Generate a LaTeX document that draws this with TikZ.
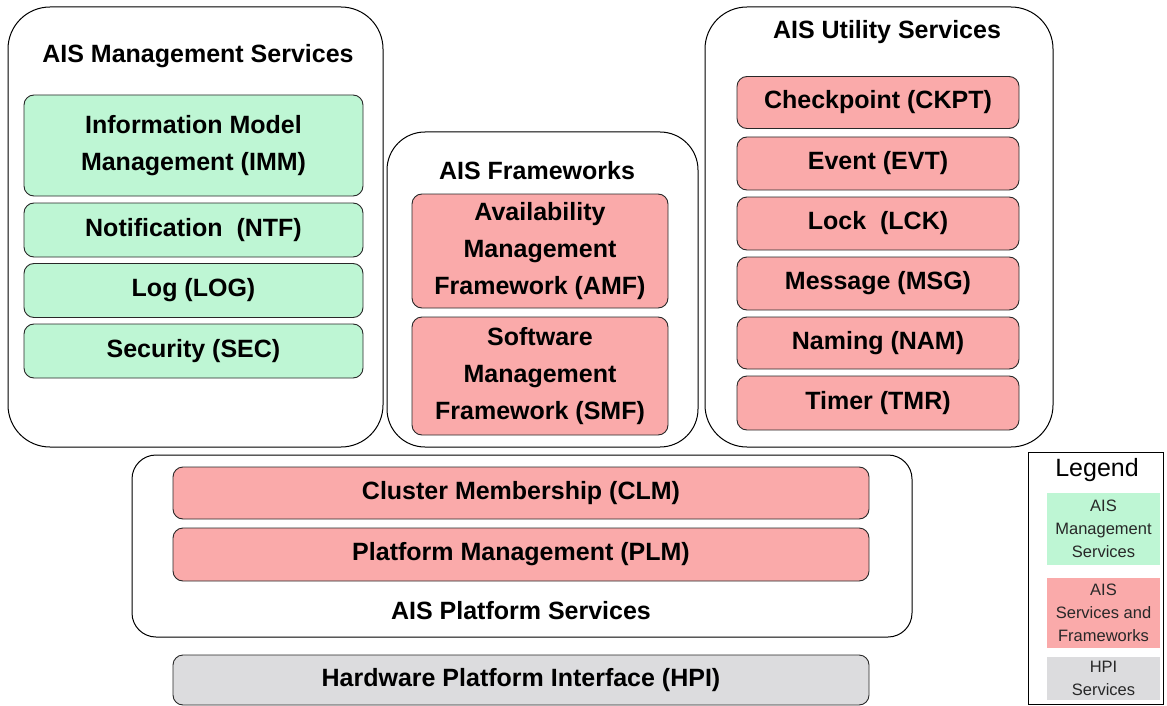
\documentclass[tikz,border=0pt]{standalone}
\usepackage{fontspec}
\setmainfont{Liberation Sans}
\definecolor{mgmtgreen}{RGB}{190,246,212}
\definecolor{svcpink}{RGB}{250,170,170}
\definecolor{hpigray}{RGB}{220,220,222}
\definecolor{edge}{RGB}{40,40,40}
\definecolor{legtext}{RGB}{40,40,40}
\begin{document}
\begin{tikzpicture}[x=1pt,y=-1pt,
  group/.style={draw=black,line width=1pt,rounded corners=#1,fill=white},
  group/.default=42pt,
  grouptitle/.style={font=\fontsize{25}{30}\selectfont\bfseries,inner sep=0pt},
  unit/.style={draw=edge,line width=0.9pt,rounded corners=10pt,inner sep=0pt,
    align=center,font=\fontsize{25}{37}\selectfont\bfseries},
  mgmt/.style={unit,fill=mgmtgreen},
  svc/.style={unit,fill=svcpink},
  hpi/.style={unit,fill=hpigray},
  legbox/.style={inner sep=0pt,align=center,text=legtext,
    font=\fontsize{16.5}{23}\selectfont}
]
\useasboundingbox (0,0) rectangle (1167,706);

% ---- AIS Management Services ----
\node[group, minimum width=375, minimum height=440] (mgmtgrp) at (195.5,227) {};
\node[grouptitle] (mgmttitle) at (198,56) {AIS Management Services};
\node[mgmt, minimum width=339, minimum height=101] (imm) at (193.5,145.5)
  {Information Model\\Management (IMM)};
\node[mgmt, minimum width=339, minimum height=54] (ntf) at (193.5,230) {Notification\ \ (NTF)};
\node[mgmt, minimum width=339, minimum height=54] (log) at (193.5,290.5) {Log (LOG)};
\node[mgmt, minimum width=339, minimum height=54] (sec) at (193.5,351) {Security (SEC)};

% ---- AIS Frameworks ----
\node[group=38pt, minimum width=311, minimum height=315] (fwgrp) at (542.5,289.5) {};
\node[grouptitle] (fwtitle) at (537,171) {AIS Frameworks};
\node[svc, minimum width=256, minimum height=114] (amf) at (540,251)
  {Availability\\Management\\Framework (AMF)};
\node[svc, minimum width=256, minimum height=118] (smf) at (540,376)
  {Software\\Management\\Framework (SMF)};

% ---- AIS Utility Services ----
\node[group, minimum width=348, minimum height=440] (utilgrp) at (879,227) {};
\node[grouptitle] (utiltitle) at (887,32) {AIS Utility Services};
\node[svc, minimum width=282, minimum height=52] (ckpt) at (878,102.5) {Checkpoint (CKPT)};
\node[svc, minimum width=282, minimum height=53] (evt) at (878,163.5) {Event (EVT)};
\node[svc, minimum width=282, minimum height=53] (lck) at (878,223.5) {Lock\ \ (LCK)};
\node[svc, minimum width=282, minimum height=53] (msg) at (878,283.5) {Message (MSG)};
\node[svc, minimum width=282, minimum height=52] (nam) at (878,343) {Naming (NAM)};
\node[svc, minimum width=282, minimum height=54] (tmr) at (878,403) {Timer (TMR)};

% ---- AIS Platform Services ----
\node[group=24pt, minimum width=780, minimum height=182] (platgrp) at (522,546) {};
\node[svc, minimum width=696, minimum height=52] (clm) at (521,493) {Cluster Membership (CLM)};
\node[svc, minimum width=696, minimum height=53] (plm) at (521,554.5) {Platform Management (PLM)};
\node[grouptitle] (plattitle) at (521,611) {AIS Platform Services};

% ---- Hardware Platform Interface ----
\node[hpi, minimum width=696, minimum height=50] (hpibox) at (521,680) {Hardware Platform Interface (HPI)};

% ---- Legend ----
\node[draw=black,line width=0.9pt,minimum width=135,minimum height=252,inner sep=0pt]
  (legend) at (1095.5,578) {};
\node[inner sep=0pt,font=\fontsize{25}{30}\selectfont] (legtitle) at (1097,470) {Legend};
\node[legbox,fill=mgmtgreen,minimum width=113,minimum height=72] (legmgmt) at (1103.5,529)
  {AIS\\Management\\Services};
\node[legbox,fill=svcpink,minimum width=113,minimum height=70] (legsvc) at (1103.5,613)
  {AIS\\Services and\\Frameworks};
\node[legbox,fill=hpigray,minimum width=113,minimum height=43] (leghpi) at (1103.5,678)
  {HPI\\Services};
\end{tikzpicture}
\end{document}
